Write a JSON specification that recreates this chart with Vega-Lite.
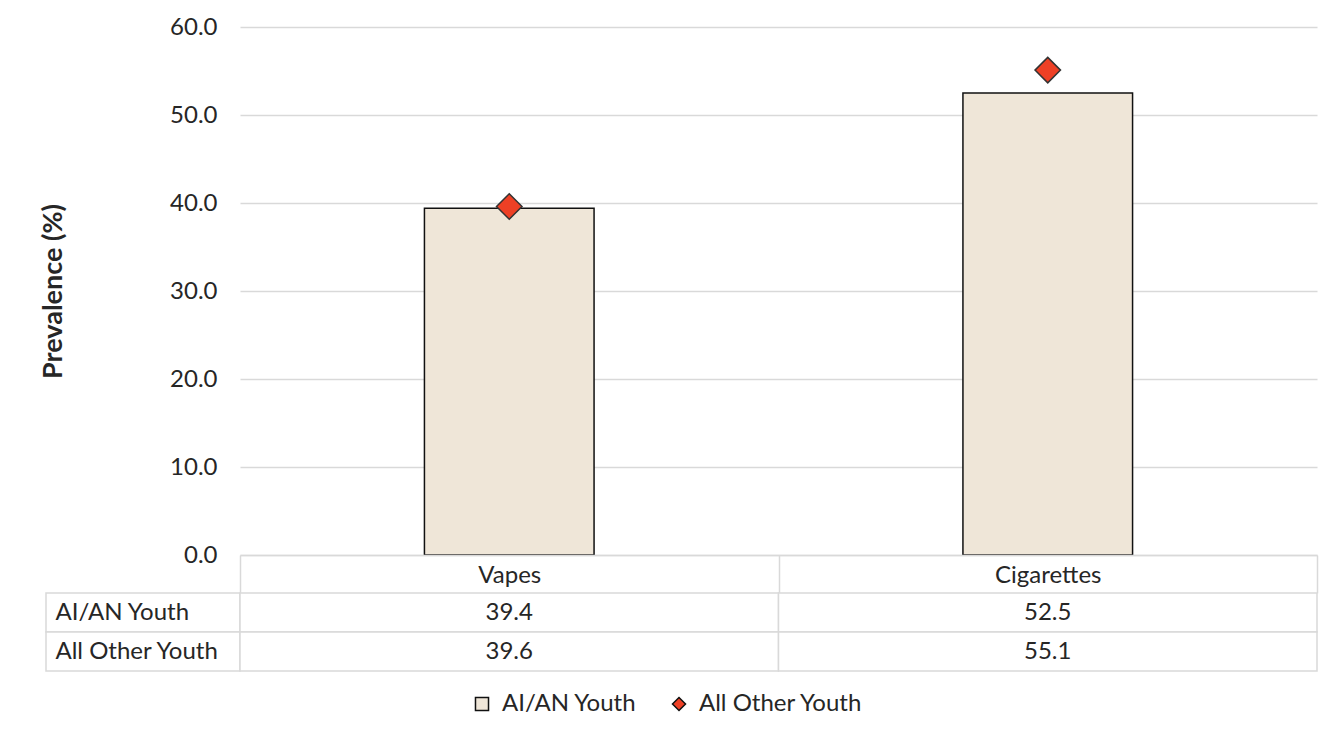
{
  "$schema": "https://vega.github.io/schema/vega-lite/v6.json",
  "background": "white",
  "padding": {"left": 39, "top": 15, "right": 5, "bottom": 5},
  "datasets": {
    "prevalence": [
      {"product": "Vapes", "group": "AI/AN Youth", "value": 39.4},
      {"product": "Cigarettes", "group": "AI/AN Youth", "value": 52.5},
      {"product": "Vapes", "group": "All Other Youth", "value": 39.6},
      {"product": "Cigarettes", "group": "All Other Youth", "value": 55.1}
    ]
  },
  "columns": 2,
  "bounds": "flush",
  "spacing": {"row": 38, "column": 0},
  "concat": [
    {
      "width": 194,
      "height": 528,
      "data": {"values": [{}]},
      "mark": {"type": "point", "opacity": 0}
    },
    {
      "width": 1077,
      "height": 528,
      "data": {"name": "prevalence"},
      "encoding": {
        "x": {
          "field": "product",
          "type": "nominal",
          "sort": ["Vapes", "Cigarettes"],
          "scale": {"paddingInner": 0, "paddingOuter": 0},
          "title": null,
          "axis": {
            "labelAngle": 0,
            "domainColor": "#d9d9d9",
            "domainWidth": 1.5,
            "ticks": true,
            "tickBand": "extent",
            "tickSize": 38,
            "tickColor": "#d9d9d9",
            "tickWidth": 1.5,
            "labelBaseline": "middle",
            "labelPadding": -18,
            "grid": false,
            "zindex": 1
          }
        }
      },
      "layer": [
        {
          "transform": [{"filter": "datum.group === 'AI/AN Youth'"}],
          "mark": {"type": "bar", "width": {"band": 0.315}, "stroke": "#111111", "strokeWidth": 1.5},
          "encoding": {
            "y": {
              "field": "value",
              "type": "quantitative",
              "scale": {"domain": [0, 60]},
              "title": "Prevalence (%)",
              "axis": {
                "format": ".1f",
                "values": [0, 10, 20, 30, 40, 50, 60],
                "ticks": false,
                "domain": false,
                "labelPadding": 23,
                "gridColor": "#d9d9d9",
                "gridWidth": 1.3,
                "titleFontWeight": "bold",
                "titleFontSize": 27,
                "titlePadding": 102
              }
            },
            "color": {
              "field": "group",
              "type": "nominal",
              "scale": {"domain": ["AI/AN Youth", "All Other Youth"], "range": ["#EFE6D8", "#EE4025"]},
              "legend": {
                "title": null,
                "orient": "none",
                "direction": "horizontal",
                "legendX": 424,
                "legendY": 665,
                "symbolSize": 170,
                "labelFontSize": 24,
                "labelFont": "Lato",
                "labelColor": "#262626",
                "labelLimit": 400,
                "labelOffset": 8,
                "columnPadding": 30,
                "encode": {
                  "symbols": {"update": {"stroke": {"value": "#222222"}, "strokeWidth": {"value": 1.5}}}
                }
              }
            }
          }
        },
        {
          "transform": [{"filter": "datum.group === 'All Other Youth'"}],
          "mark": {"type": "point", "filled": true, "size": 650, "stroke": "#333333", "strokeWidth": 1.5, "opacity": 1},
          "encoding": {
            "y": {"field": "value", "type": "quantitative"},
            "color": {"field": "group", "type": "nominal"},
            "shape": {
              "field": "group",
              "type": "nominal",
              "scale": {"domain": ["AI/AN Youth", "All Other Youth"], "range": ["square", "diamond"]}
            }
          }
        }
      ]
    },
    {
      "width": 194,
      "height": 78,
      "data": {"name": "prevalence"},
      "transform": [{"filter": "datum.product === 'Vapes'"}],
      "mark": {"type": "rect", "fill": "white", "stroke": "#d9d9d9", "strokeWidth": 1.5},
      "encoding": {
        "y": {
          "field": "group",
          "type": "nominal",
          "sort": ["AI/AN Youth", "All Other Youth"],
          "scale": {"paddingInner": 0, "paddingOuter": 0},
          "title": null,
          "axis": {"ticks": false, "domain": false, "labelAlign": "left", "labelPadding": -9, "zindex": 1}
        }
      }
    },
    {
      "width": 1077,
      "height": 78,
      "data": {"name": "prevalence"},
      "encoding": {
        "x": {
          "field": "product",
          "type": "nominal",
          "sort": ["Vapes", "Cigarettes"],
          "scale": {"paddingInner": 0, "paddingOuter": 0},
          "axis": null
        },
        "y": {
          "field": "group",
          "type": "nominal",
          "sort": ["AI/AN Youth", "All Other Youth"],
          "scale": {"paddingInner": 0, "paddingOuter": 0},
          "axis": null
        }
      },
      "layer": [
        {"mark": {"type": "rect", "fill": "white", "stroke": "#d9d9d9", "strokeWidth": 1.5}},
        {
          "mark": {"type": "text", "font": "Lato", "fontSize": 24, "color": "#262626"},
          "encoding": {"text": {"field": "value", "type": "quantitative", "format": ".1f"}}
        }
      ]
    }
  ],
  "config": {
    "font": "Lato",
    "view": {"stroke": null},
    "axis": {
      "labelFont": "Lato",
      "labelFontSize": 24,
      "labelColor": "#262626",
      "titleFont": "Lato",
      "titleFontSize": 24,
      "titleColor": "#262626"
    }
  }
}
